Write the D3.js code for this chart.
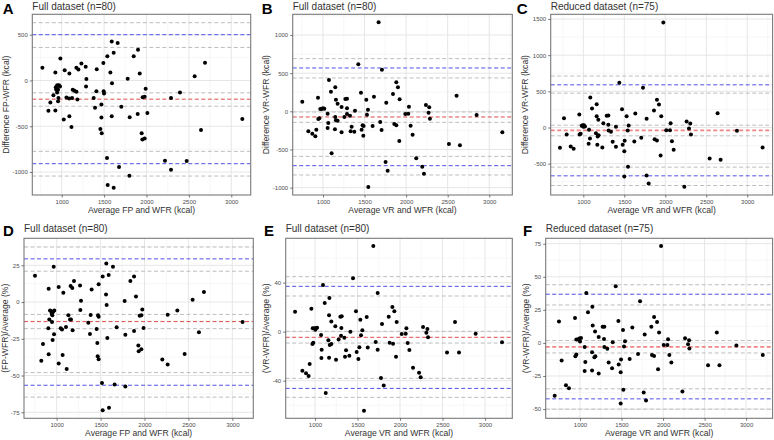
<!DOCTYPE html>
<html><head><meta charset="utf-8">
<script src="https://cdn.jsdelivr.net/npm/d3@7"></script>
<style>body{margin:0;background:#fff}svg{display:block}text{font-family:"Liberation Sans",Arial,Helvetica,sans-serif}</style>
</head><body><svg id="c" width="774" height="440"></svg>
<script>
// ---------- data ----------
const xTicks = [1000,1500,2000,2500,3000];
const aTicksY = [500,0,-500,-1000];
const bTicksY = [1000,500,0,-500,-1000];
const cTicksY = [1500,1000,500,0,-500];
const dTicksY = [25,0,-25,-50,-75];
const eTicksY = [40,0,-40];
const fTicksY = [75,50,25,0,-25,-50];

const aAvg = [772,843,866,902,925,925,930,934,946,946,957,957,961,961,984,1024,1035,1056,1087,1090,1090,1115,1130,1150,1173,1174,1185,1197,1232,1283,1287,1291,1377,1393,1409,1413,1456,1468,1468,1472,1491,1495,1499,1538,1534,1542,1574,1590,1590,1593,1613,1613,1660,1676,1703,1778,1798,1802,1849,1896,1900,1920,1943,1951,1955,1978,1978,1990,2010,2218,2289,2289,2395,2474,2568,2643,2690,3130,1122,968,980];
const aDiff = [139,-332,-241,-161,88,-329,-73,-99,-51,-131,-102,-226,-58,-190,241,-427,113,-186,-197,77,-391,-507,-102,-113,139,-124,-208,120,186,150,-66,15,-190,-299,-117,124,-529,-263,-405,-577,190,-117,-142,266,-847,-1142,88,427,-391,-29,303,-1172,409,-945,-288,18,-1040,-402,266,-365,336,77,-577,-646,-183,-179,-635,-91,-354,-876,-975,-190,-131,-880,47,-540,193,-420,-190,-51,-66];

const bAvg = [751,824,872,908,920,940,944,956,968,984,1000,1016,1056,1056,1064,1072,1096,1104,1144,1148,1148,1156,1156,1176,1176,1224,1224,1269,1257,1289,1289,1289,1325,1333,1345,1377,1385,1425,1457,1465,1477,1485,1489,1521,1529,1541,1545,1597,1613,1669,1689,1705,1709,1753,1761,1778,1842,1858,1882,1882,1902,1918,1922,1990,2026,2034,2054,2078,2122,2194,2214,2238,2270,2278,2286,2515,2607,2647,2848,3157];
const bDiff = [127,-262,-293,-328,-240,179,-100,-92,31,31,39,35,-31,-218,-153,410,258,-550,-236,314,-74,153,-118,100,-122,57,-275,162,-74,166,39,-35,-57,-262,-201,-266,9,616,245,-240,-183,-319,-192,153,-44,22,-991,-192,192,1166,-140,-245,546,-664,113,-777,227,-166,-183,380,314,-389,157,-35,-31,61,-188,-306,-616,-725,-817,83,-17,52,-96,-428,205,-445,-48,-275];

const cAvg = [715,764,797,846,882,951,967,980,1008,1020,1065,1069,1081,1085,1106,1154,1163,1163,1175,1183,1171,1187,1232,1244,1285,1305,1305,1309,1337,1358,1398,1398,1439,1472,1480,1500,1504,1500,1528,1541,1545,1553,1622,1634,1707,1728,1772,1772,1797,1862,1870,1898,1898,1923,1951,1943,1976,2012,2057,2065,2081,2102,2260,2289,2305,2313,2232,2541,2638,2675,2874,3187,992,1000,955];
const cDiff = [-281,129,-97,-263,-295,180,-88,23,32,14,-226,-32,-152,415,263,-78,323,157,-124,106,-240,-106,-276,60,161,166,37,-41,-60,-198,-267,9,618,253,-240,-327,-184,-677,157,-41,-544,28,-194,194,-143,548,120,-664,-774,235,-161,-180,383,318,157,-387,1452,-37,-37,60,-189,-309,83,-14,55,-97,-820,-428,198,-447,-46,-276,30,10,-95];

const dAvg = [753,966,909,916,905,844,825,909,924,939,943,951,947,958,973,954,970,1023,1076,1023,1046,1061,1068,1106,1114,1133,1152,1163,1159,1178,1197,1182,1266,1277,1270,1360,1379,1387,1398,1455,1463,1478,1467,1471,1478,1478,1516,1524,1524,1565,1562,1569,1577,1592,1596,1641,1660,1683,1774,1782,1782,1839,1881,1881,1903,1930,1934,1945,1964,1964,1975,1990,2203,2264,2264,2374,2457,2548,2620,2677,3117];
const dPct = [17.9,24,9,-11.8,-17.9,-28.5,-40,-35.5,-5.7,-6.3,-7.9,-9,-13.6,-6.8,-5.7,-25.8,-21.9,10.2,6.3,-41.8,-17.9,-18.6,-36,-17,-45.5,-9,-11.8,-11.8,10.9,9.5,14.3,-19.2,11.3,0.9,-5.4,-14,-21.7,-8.8,8.6,-18.3,-27.8,-38.9,-36.9,-9,-10,12.2,-55,-73.7,17.4,26.2,5.2,-2,-24.4,18.5,-71.9,24,-56.1,-17.2,0.7,-22.2,-57.5,14.3,17.4,-19.7,3.8,-29.6,-33.5,-9.3,-9,-32.1,-5,-17.6,-39.1,-42.5,-8.6,-5.7,-35.3,1.6,-20.6,6.8,-13.6];

const eAvg = [765,957,969,980,973,992,1012,1024,1004,937,851,894,925,1071,1078,1075,1094,1114,1126,1169,1165,1157,1173,1192,1192,1165,1239,1247,1278,1298,1314,1310,1306,1345,1353,1365,1404,1416,1447,1482,1490,1510,1522,1533,1541,1557,1576,1608,1620,1686,1714,1737,1737,1776,1788,1808,1867,1878,1910,1918,1933,1961,1953,2020,2067,2075,2090,2110,2153,2224,2243,2271,2310,2322,2330,2553,2647,2694,2890,3200];
const ePct = [16.3,18.8,-10,-9,2.7,2.7,2.7,3.3,1.6,-26.4,-31.8,-34,-36.2,-2.7,-14.7,-21.5,38.1,23.4,-50,27.5,13.3,-7,-10.9,-10,8.4,-21.2,4.4,-23,-6.3,12.2,12.5,3,-3.3,-4.9,-20.4,-15.2,-19.6,0,43.5,16.6,-16.6,-22.3,-12.8,9.8,-3,1.1,-64.5,12,-13,70,-8.4,31.6,-14.7,-37.8,6.3,-44,12.2,-9,20.1,-9.8,16.6,7.9,-20.4,-1.9,-1.6,2.7,-9.3,-15,-29.4,-33.5,-37.3,3.8,-0.8,2.2,-4.6,-17.1,7.9,-17.1,-1.6,-8.7];

const fAvg = [695,747,779,831,867,940,944,956,956,976,992,1000,1012,1056,1064,1056,1076,1096,1145,1153,1149,1145,1173,1181,1185,1225,1225,1273,1293,1289,1293,1329,1345,1386,1394,1430,1462,1466,1494,1490,1490,1518,1530,1542,1522,1598,1630,1699,1723,1767,1779,1795,1859,1867,1892,1892,1928,1952,1940,1976,2008,2052,2060,2076,2100,2233,2265,2301,2313,2317,2542,2647,2679,2883,3201];
const fPct = [-40,16.1,-13.3,-32,-34.2,18.9,-10,-8.8,2.5,2.5,3.3,1,3.8,-3,-14.4,-21.2,37.8,23.2,-7,13.1,27.4,-20.9,-10.8,8.6,-10,-23.2,4.5,12.3,12.3,3,-3,-4.5,-14.9,-19.1,0.5,42.8,16.6,-16.4,-12.6,-22.2,-45.8,9.8,-2.8,1.3,-35.5,-12.1,11.6,-8.3,31.5,-37.5,6.3,-43.6,12.3,-9.1,-9.8,19.6,15.9,7.8,-19.9,73.3,-1.5,-1.5,2.8,-9.1,-14.9,-36.8,3.5,-1,2,-4.3,-16.9,7.8,-16.9,-2,-9.1];

// reference lines: mean, limits of agreement, and their CIs
const aMean = [-204], aLoA = [500,-909], aCI = [631,361,-135,-281,-774,-1044];
const bMean = [-74],  bLoA = [568,-712], bCI = [690,437,-9,-144,-590,-834];
const cMean = [-41],  cLoA = [590,-668], cCI = [712,475,32,-115,-548,-802];
const dMean = [-13.3], dLoA = [29.4,-56.6], dCI = [37.5,21,-8.4,-18.1,-48,-64.7];
const eMean = [-4.6], eLoA = [37,-46.3], eCI = [44.9,29.1,0.3,-9.3,-38.1,-53.6];
const fMean = [-3],   fLoA = [36.8,-42.3], fCI = [44,28.7,1.8,-7.6,-34.7,-50.1];

const letters = ['A','B','C','D','E','F'];
const titles = ['Full dataset (n=80)','Full dataset (n=80)','Reduced dataset (n=75)','Full dataset (n=80)','Full dataset (n=80)','Reduced dataset (n=75)'];
const xTitles = ['Average FP and WFR (kcal)','Average VR and WFR (kcal)','Average VR and WFR (kcal)','Average FP and WFR (kcal)','Average VR and WFR (kcal)','Average VR and WFR (kcal)'];
const yTitles = ['Difference FP-WFR (kcal)','Difference VR-WFR (kcal)','Difference VR-WFR (kcal)','(FP-WFR)/Average (%)','(VR-WFR)/Average (%)','(VR-WFR)/Average (%)'];

// ---------- layout (positions / domains) ----------
const layout = [
 {r:[32.3,250.7,14.3,195], xd:[653,3229], yd:[-1251,723], lx:2.7, ly:13.5, ty:9.5, ytx:6, red:'#e04a4a', rw:1},
 {r:[292.7,512.3,14.3,195], xd:[636,3277], yd:[-1096,1271], lx:261.7, ly:13.5, ty:9.5, ytx:265.5, red:'#e04a4a', rw:1},
 {r:[550.7,772.6,14.3,195], xd:[602,3309], yd:[-933,1565], lx:516.7, ly:13.5, ty:9.5, ytx:524.5, red:'#f08585', rw:1.8},
 {r:[24,253.3,238.3,418.3], xd:[628,3239], yd:[-79.1,43.4], lx:3, ly:235.5, ty:232, ytx:5, red:'#e04a4a', rw:1},
 {r:[285.7,512.3,238.3,418.3], xd:[655,3321], yd:[-70.7,76.2], lx:264, ly:235.5, ty:232, ytx:266, red:'#e04a4a', rw:1},
 {r:[545.7,772.6,238.3,418.3], xd:[587,3319], yd:[-57,79.1], lx:523, ly:235.5, ty:232, ytx:525.5, red:'#f08585', rw:1.8}
];
const series = [[aAvg,aDiff],[bAvg,bDiff],[cAvg,cDiff],[dAvg,dPct],[eAvg,ePct],[fAvg,fPct]];
const yTickSets = [aTicksY,bTicksY,cTicksY,dTicksY,eTicksY,fTicksY];
const means = [aMean,bMean,cMean,dMean,eMean,fMean];
const loas = [aLoA,bLoA,cLoA,dLoA,eLoA,fLoA];
const cis = [aCI,bCI,cCI,dCI,eCI,fCI];

const svg = d3.select('#c');

function minorOf(ticks, dom){
  const t = ticks.slice().sort((a,b)=>a-b);
  const step = t[1]-t[0];
  const out = [];
  for (let v = t[0]-step/2; v <= t[t.length-1]+step/2; v += step) {
    if (v > dom[0] && v < dom[1]) out.push(v);
  }
  return out;
}

layout.forEach((p,i)=>{
  const [x0,x1,y0,y1] = p.r;
  const x = d3.scaleLinear().domain(p.xd).range([x0,x1]);
  const y = d3.scaleLinear().domain(p.yd).range([y1,y0]);
  const g = svg.append('g');

  // minor grid
  g.selectAll('.mx').data(minorOf(xTicks,p.xd)).enter().append('line')
    .attr('x1',d=>x(d)).attr('x2',d=>x(d)).attr('y1',y0).attr('y2',y1)
    .attr('stroke','#f2f2f2').attr('stroke-width',0.6);
  g.selectAll('.my').data(minorOf(yTickSets[i],p.yd)).enter().append('line')
    .attr('y1',d=>y(d)).attr('y2',d=>y(d)).attr('x1',x0).attr('x2',x1)
    .attr('stroke','#f2f2f2').attr('stroke-width',0.6);
  // major grid
  g.selectAll('.gx').data(xTicks).enter().append('line')
    .attr('x1',d=>x(d)).attr('x2',d=>x(d)).attr('y1',y0).attr('y2',y1)
    .attr('stroke','#e6e6e6').attr('stroke-width',1);
  g.selectAll('.gy').data(yTickSets[i]).enter().append('line')
    .attr('y1',d=>y(d)).attr('y2',d=>y(d)).attr('x1',x0).attr('x2',x1)
    .attr('stroke','#e6e6e6').attr('stroke-width',1);

  // reference lines
  const hl = (vals, col, w) => g.selectAll(null).data(vals).enter().append('line')
    .attr('x1',x0).attr('x2',x1).attr('y1',d=>y(d)).attr('y2',d=>y(d))
    .attr('stroke',col).attr('stroke-width',w).attr('stroke-dasharray','4,2.5');
  hl(cis[i], '#bdbdbd', 1);
  hl(loas[i], '#5050ea', 1);
  hl(means[i], p.red, p.rw);

  // points
  const [xs, ys] = series[i];
  g.selectAll('.pt').data(xs.map((v,k)=>[v,ys[k]])).enter().append('circle')
    .attr('cx',d=>x(d[0])).attr('cy',d=>y(d[1])).attr('r',2).attr('fill','#000');

  // border
  g.append('rect').attr('x',x0).attr('y',y0).attr('width',x1-x0).attr('height',y1-y0)
    .attr('fill','none').attr('stroke','#7a7a7a').attr('stroke-width',1.1);

  // axes
  const ax = g.append('g').attr('transform',`translate(0,${y1})`)
    .call(d3.axisBottom(x).tickValues(xTicks).tickSize(2.5).tickPadding(2).tickFormat(d3.format('d')));
  const ay = g.append('g').attr('transform',`translate(${x0},0)`)
    .call(d3.axisLeft(y).tickValues(yTickSets[i]).tickSize(2.5).tickPadding(2).tickFormat(d=>String(d).replace('-','-')));
  [ax,ay].forEach(a=>{
    a.select('.domain').remove();
    a.selectAll('line').attr('stroke','#555').attr('stroke-width',0.8);
    a.selectAll('text').attr('fill','#4d4d4d').style('font-size','6px');
  });

  // texts
  g.append('text').attr('x',p.lx).attr('y',p.ly).text(letters[i])
    .style('font-size','15px').style('font-weight','bold').attr('fill','#000');
  g.append('text').attr('x',x0).attr('y',p.ty).text(titles[i])
    .style('font-size','10px').attr('fill','#333');
  g.append('text').attr('x',(x0+x1)/2).attr('y',y1+17.5).attr('text-anchor','middle')
    .text(xTitles[i]).style('font-size','8.6px').attr('fill','#333');
  g.append('text').attr('transform',`translate(${p.ytx+3},${(y0+y1)/2}) rotate(-90)`)
    .attr('text-anchor','middle').text(yTitles[i]).style('font-size','8.6px').attr('fill','#333');
});
</script>
</body></html>
